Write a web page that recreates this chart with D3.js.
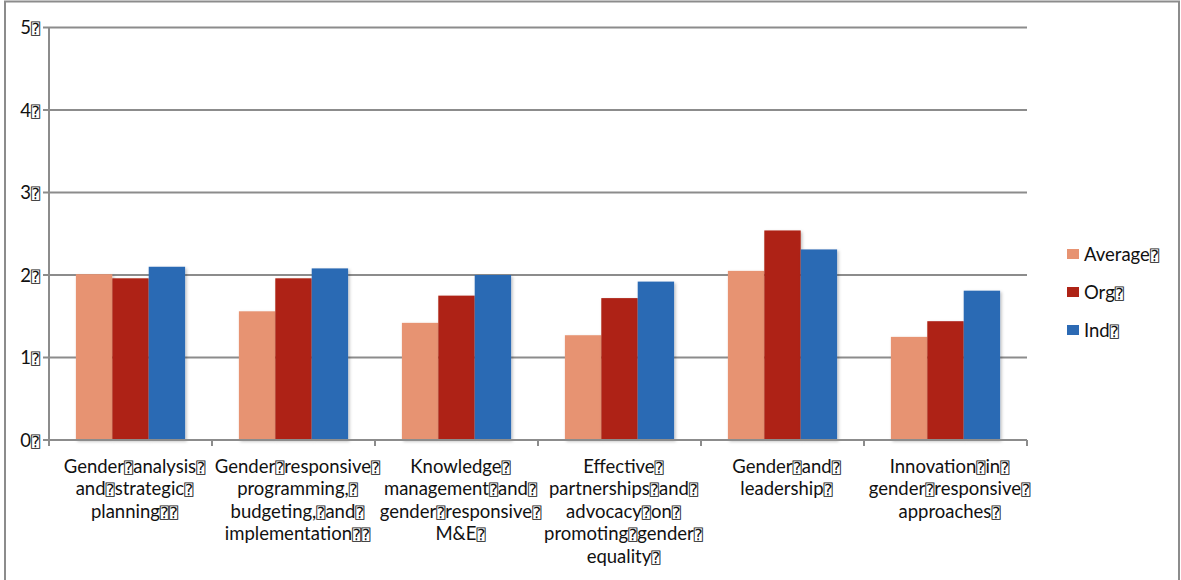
<!DOCTYPE html>
<html>
<head>
<meta charset="utf-8">
<script src="https://cdn.jsdelivr.net/npm/d3@7"></script>
<style>
  html, body { margin: 0; padding: 0; background: #fff; }
  svg { display: block; }
  text { font-family: Lato, "Open Sans", sans-serif; fill: #111; }
  .box { font-family: "DejaVu Sans", "DejaVu Sans Mono", sans-serif; }
</style>
</head>
<body>
<svg id="chart" width="1181" height="580"></svg>
<script>
// Replacement glyph that appears in place of spaces in the source labels
const Q = "\u2370";

const categories = [
  ["Gender" + Q + "analysis" + Q, "and" + Q + "strategic" + Q, "planning" + Q + Q],
  ["Gender" + Q + "responsive" + Q, "programming," + Q, "budgeting," + Q + "and" + Q, "implementation" + Q + Q],
  ["Knowledge" + Q, "management" + Q + "and" + Q, "gender" + Q + "responsive" + Q, "M&E" + Q],
  ["Effective" + Q, "partnerships" + Q + "and" + Q, "advocacy" + Q + "on" + Q, "promoting" + Q + "gender" + Q, "equality" + Q],
  ["Gender" + Q + "and" + Q, "leadership" + Q],
  ["Innovation" + Q + "in" + Q, "gender" + Q + "responsive" + Q, "approaches" + Q]
];
const seriesNames = ["Average" + Q, "Org" + Q, "Ind" + Q];
const averageValues = [2.01, 1.56, 1.42, 1.27, 2.05, 1.25];
const orgValues     = [1.96, 1.96, 1.75, 1.72, 2.54, 1.44];
const indValues     = [2.10, 2.08, 2.00, 1.92, 2.31, 1.81];
const yTicks = [0, 1, 2, 3, 4, 5];
const colors = ["#E79372", "#AE2316", "#2C6AB4"];

(function () {
  const seriesValues = [averageValues, orgValues, indValues];
  const svg = d3.select("#chart");

  // outer frame
  svg.append("rect")
    .attr("x", 5).attr("y", 1.5).attr("width", 1174).attr("height", 600)
    .attr("fill", "none").attr("stroke", "#8c8c8c").attr("stroke-width", 2);

  const plotLeft = 49, plotRight = 1027, plotTop = 27.5, plotBottom = 440;
  const catIdx = d3.range(categories.length);
  const x0 = d3.scaleBand().domain(catIdx).range([plotLeft, plotRight]).padding(0);
  const x1 = d3.scaleBand().domain(d3.range(seriesNames.length))
    .range([x0.bandwidth() * 0.165, x0.bandwidth() * 0.835]).padding(0);
  const y = d3.scaleLinear().domain([0, 5]).range([plotBottom, plotTop]);

  const gridColor = "#8c8c8c";

  // horizontal gridlines with left tick marks
  svg.append("g").selectAll("line").data(yTicks).join("line")
    .attr("x1", plotLeft - 6).attr("x2", plotRight)
    .attr("y1", d => y(d)).attr("y2", d => y(d))
    .attr("stroke", gridColor).attr("stroke-width", 2);

  // drop shadow for bars
  const defs = svg.append("defs");
  const f = defs.append("filter").attr("id", "shadow")
    .attr("x", "-20%").attr("y", "-20%").attr("width", "140%").attr("height", "140%");
  f.append("feDropShadow").attr("dx", 1.5).attr("dy", 1.5).attr("stdDeviation", 1.5)
    .attr("flood-color", "#000").attr("flood-opacity", 0.25);

  // bars
  const groups = svg.append("g").selectAll("g").data(catIdx).join("g")
    .attr("transform", i => `translate(${x0(i)},0)`);
  groups.selectAll("rect")
    .data(i => seriesValues.map((vals, s) => ({ s, v: vals[i] })))
    .join("rect")
    .attr("x", d => x1(d.s))
    .attr("width", x1.bandwidth())
    .attr("y", d => y(d.v))
    .attr("height", d => y(0) - y(d.v))
    .attr("fill", d => colors[d.s])
    .attr("filter", "url(#shadow)");

  // axis lines
  svg.append("line").attr("x1", plotLeft).attr("x2", plotLeft).attr("y1", plotTop).attr("y2", plotBottom + 6)
    .attr("stroke", gridColor).attr("stroke-width", 2);
  svg.append("line").attr("x1", plotLeft - 6).attr("x2", plotRight).attr("y1", plotBottom).attr("y2", plotBottom)
    .attr("stroke", gridColor).attr("stroke-width", 2);
  const catEdges = catIdx.map(i => x0(i)).concat([plotRight]);
  svg.append("g").selectAll("line").data(catEdges).join("line")
    .attr("x1", d => d).attr("x2", d => d).attr("y1", plotBottom).attr("y2", plotBottom + 6)
    .attr("stroke", gridColor).attr("stroke-width", 2);

  // text helper: renders the replacement glyph in its own tspan
  function fillText(sel, str, size) {
    const parts = str.split(Q);
    parts.forEach((p, k) => {
      if (p.length) sel.append("tspan").text(p);
      if (k < parts.length - 1)
        sel.append("tspan").attr("class", "box").attr("font-size", size * 0.82).text(Q);
    });
  }

  // y tick labels
  yTicks.forEach(t => {
    const tx = svg.append("text").attr("x", 40).attr("y", y(t) + 6.5)
      .attr("text-anchor", "end").attr("font-size", 18.5);
    fillText(tx, String(t) + Q, 18.5);
  });

  // category labels
  categories.forEach((lines, i) => {
    const cx = x0(i) + x0.bandwidth() / 2 + 4;
    lines.forEach((ln, j) => {
      const tx = svg.append("text").attr("x", cx).attr("y", 472.5 + j * 22.5)
        .attr("text-anchor", "middle").attr("font-size", 18.5);
      fillText(tx, ln, 18.5);
    });
  });

  // legend
  const lg = svg.append("g").attr("transform", "translate(1067,249)");
  seriesNames.forEach((name, s) => {
    const g = lg.append("g").attr("transform", `translate(0,${s * 38})`);
    g.append("rect").attr("width", 12).attr("height", 10).attr("fill", colors[s]);
    const tx = g.append("text").attr("x", 17).attr("y", 11.5).attr("font-size", 18.5);
    fillText(tx, name, 18.5);
  });
})();
</script>
</body>
</html>
